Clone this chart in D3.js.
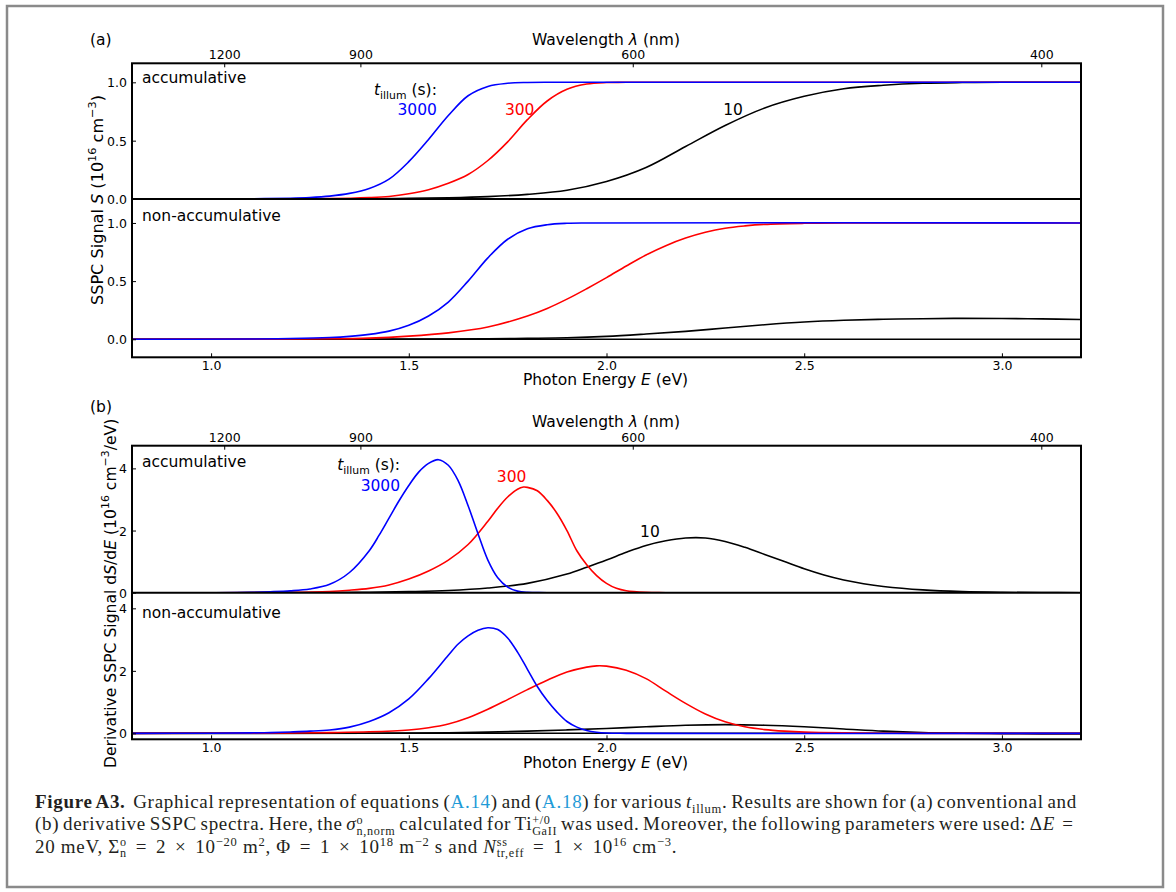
<!DOCTYPE html>
<html lang="en">
<head>
<meta charset="UTF-8">
<title>Figure A3</title>
<script src="https://d3js.org/d3.v7.min.js"></script>
<style>
  body { margin: 0; background: #fff; }
  #fig { position: relative; width: 1176px; height: 892px; }
  svg { position: absolute; left: 0; top: 0; }
  svg text { font-family: "DejaVu Sans", sans-serif; fill: #000; }
  .caption { position: absolute; left: 35px; top: 791px; width: 1042px;
    font-family: "Liberation Serif", serif; font-size: 19px; letter-spacing: 0.7px; color: #231f20; }
  .caption .ln { height: 22.3px; line-height: 22.3px; white-space: nowrap; }
  .caption sup, .caption sub { font-size: 0.66em; line-height: 0; }
  .caption .ref { color: #1f9bd7; }
  .caption .op { margin: 0 0.18em; }
  .caption .ss { display: inline-block; vertical-align: -0.36em; line-height: 0.88; font-size: 0.64em; }
  .caption .ss span { display: block; }
</style>
</head>
<body>
<div id="fig"><svg width="1176" height="892"></svg></div>
<script>
const hc = 1239.84; // eV nm
const energyTicks = [1.0, 1.5, 2.0, 2.5, 3.0];
const wavelengthTicks = [1200, 900, 600, 400];
const signalTicks = [0, 0.5, 1.0];
const derivTicks = [0, 2, 4];
const illumTimes = ["10", "300", "3000"];
const seriesColors = ["#000000", "#ff0000", "#0000ff"];

// (a) accumulative S(E), points [E, S]
const accS10 = [[0.8,0],[1.4,0.002],[1.5,0.005],[1.6,0.01],[1.7,0.02],[1.8,0.04],[1.9,0.075],[2.0,0.15],[2.1,0.27],[2.2,0.45],[2.3,0.63],[2.4,0.78],[2.5,0.88],[2.6,0.945],[2.7,0.975],[2.8,0.992],[2.9,0.998],[3.0,1.0],[3.2,1.0]];
const accS300 = [[0.8,0],[1.3,0.003],[1.4,0.012],[1.45,0.022],[1.5,0.045],[1.55,0.08],[1.6,0.135],[1.65,0.21],[1.7,0.33],[1.75,0.49],[1.8,0.68],[1.85,0.84],[1.9,0.94],[1.95,0.985],[2.0,0.998],[2.05,1.0],[3.2,1.0]];
const accS3000 = [[0.8,0],[1.0,0],[1.1,0.002],[1.2,0.007],[1.25,0.013],[1.3,0.025],[1.35,0.048],[1.4,0.09],[1.45,0.17],[1.5,0.32],[1.55,0.51],[1.6,0.715],[1.65,0.885],[1.7,0.965],[1.75,0.992],[1.8,0.999],[1.9,1.0],[3.2,1.0]];

// (a) non-accumulative S(E)
const nonS10 = [[0.8,0],[1.5,0.001],[1.7,0.004],[1.8,0.008],[1.9,0.013],[2.0,0.025],[2.1,0.045],[2.2,0.068],[2.3,0.097],[2.4,0.125],[2.5,0.148],[2.6,0.163],[2.7,0.172],[2.8,0.177],[2.9,0.18],[3.0,0.179],[3.1,0.175],[3.2,0.17]];
const nonS300 = [[0.8,0],[1.3,0.004],[1.4,0.01],[1.5,0.027],[1.6,0.055],[1.7,0.105],[1.8,0.2],[1.85,0.265],[1.9,0.345],[1.95,0.435],[2.0,0.53],[2.05,0.63],[2.1,0.725],[2.15,0.805],[2.2,0.87],[2.25,0.92],[2.3,0.955],[2.35,0.975],[2.4,0.988],[2.5,0.997],[2.6,1.0],[3.2,1.0]];
const nonS3000 = [[0.8,0],[1.1,0.002],[1.2,0.006],[1.3,0.015],[1.35,0.025],[1.4,0.042],[1.45,0.07],[1.5,0.12],[1.55,0.2],[1.6,0.32],[1.65,0.5],[1.7,0.7],[1.75,0.86],[1.8,0.95],[1.85,0.985],[1.9,0.997],[1.95,1.0],[3.2,1.0]];

// (b) accumulative dS/dE
const accD10 = [[0.8,0],[1.3,0.005],[1.4,0.015],[1.5,0.035],[1.6,0.07],[1.7,0.15],[1.8,0.3],[1.9,0.6],[1.95,0.82],[2.0,1.05],[2.05,1.3],[2.1,1.52],[2.15,1.67],[2.2,1.76],[2.25,1.76],[2.3,1.65],[2.35,1.46],[2.4,1.23],[2.45,1.0],[2.5,0.77],[2.55,0.57],[2.6,0.41],[2.65,0.29],[2.7,0.2],[2.8,0.09],[2.9,0.035],[3.0,0.012],[3.1,0.004],[3.2,0]];
const accD300 = [[0.8,0],[1.2,0.01],[1.3,0.04],[1.35,0.08],[1.4,0.14],[1.45,0.25],[1.5,0.44],[1.55,0.7],[1.6,1.05],[1.65,1.55],[1.7,2.3],[1.725,2.72],[1.75,3.08],[1.775,3.33],[1.79,3.4],[1.8,3.39],[1.825,3.28],[1.85,2.97],[1.875,2.55],[1.9,2.0],[1.925,1.35],[1.95,0.9],[1.975,0.55],[2.0,0.3],[2.025,0.14],[2.05,0.06],[2.1,0.01],[2.15,0],[3.2,0]];
const accD3000 = [[0.8,0],[1.0,0],[1.1,0.01],[1.15,0.03],[1.2,0.06],[1.25,0.12],[1.3,0.27],[1.35,0.65],[1.4,1.35],[1.425,1.85],[1.45,2.4],[1.475,2.95],[1.5,3.45],[1.525,3.88],[1.55,4.16],[1.575,4.28],[1.6,4.1],[1.625,3.6],[1.65,2.8],[1.675,1.9],[1.7,1.05],[1.725,0.48],[1.75,0.18],[1.775,0.05],[1.8,0.01],[1.85,0],[3.2,0]];

// (b) non-accumulative dS/dE
const nonD10 = [[0.8,0],[1.4,0.005],[1.6,0.02],[1.7,0.04],[1.8,0.07],[1.9,0.11],[2.0,0.155],[2.1,0.21],[2.2,0.26],[2.3,0.28],[2.4,0.26],[2.5,0.21],[2.6,0.14],[2.7,0.07],[2.8,0.025],[2.9,0.005],[3.0,-0.008],[3.1,-0.015],[3.2,-0.02]];
const nonD300 = [[0.8,0],[1.2,0.01],[1.3,0.025],[1.4,0.05],[1.5,0.11],[1.55,0.18],[1.6,0.3],[1.65,0.5],[1.7,0.77],[1.75,1.08],[1.8,1.4],[1.85,1.7],[1.9,1.96],[1.95,2.12],[1.975,2.16],[2.0,2.15],[2.05,2.02],[2.1,1.75],[2.15,1.35],[2.2,0.96],[2.25,0.62],[2.3,0.37],[2.35,0.21],[2.4,0.12],[2.45,0.07],[2.5,0.04],[2.6,0.015],[2.7,0.005],[2.8,0],[3.2,0]];
const nonD3000 = [[0.8,0],[1.0,0.005],[1.1,0.015],[1.15,0.025],[1.2,0.045],[1.25,0.07],[1.3,0.11],[1.35,0.2],[1.4,0.38],[1.45,0.66],[1.5,1.1],[1.55,1.75],[1.6,2.5],[1.625,2.86],[1.65,3.12],[1.675,3.3],[1.7,3.38],[1.725,3.32],[1.75,3.05],[1.775,2.6],[1.8,2.05],[1.825,1.5],[1.85,1.05],[1.875,0.68],[1.9,0.38],[1.925,0.2],[1.95,0.09],[1.975,0.035],[2.0,0.01],[2.05,0],[3.2,0]];

const svg = d3.select("svg");
const left = 132, right = 1081;
const x = d3.scaleLinear().domain([0.8, 3.2]).range([left, right]);

// outer frame
svg.append("rect").attr("x", 7).attr("y", 6).attr("width", 1156).attr("height", 881)
  .attr("fill", "none").attr("stroke", "#8a8a8a").attr("stroke-width", 2.5);

// rich text helper (sup/sub/italic pieces)
function rich(sel, parts, size) {
  let shift = 0;
  parts.forEach(p => {
    const want = p.sup ? -size * 0.42 : p.sub ? size * 0.28 : 0;
    sel.append("tspan").attr("dy", want - shift)
      .style("font-size", (p.sup || p.sub) ? size * 0.7 + "px" : size + "px")
      .style("font-style", p.it ? "italic" : null)
      .text(p.t);
    shift = want;
  });
}

const panels = [
  { tag: "(a)", top: 63.3, mid: 199, bottom: 357.3, fmt: d3.format(".1f"), ticks: signalTicks,
    tagY: 45, wlY: 45, tickLabY: 370, xTitleY: 385,
    ylab: [{t:"SSPC Signal "},{t:"S",it:true},{t:" (10"},{t:"16",sup:true},{t:" cm"},{t:"\u22123",sup:true},{t:")"}],
    ylabX: 103, ylabY: 200, ylabAnchor: "middle", ylabSize: 16.1,
    subs: [
      { name: "accumulative", domain: [0, 1.163], series: [accS10, accS300, accS3000], textY: 83.3,
        notes: [ {t:"10", e:2.295, v:0.72, c:0, a:"start"}, {t:"300", e:1.743, v:0.72, c:1, a:"start"},
                 {t:"3000", e:1.571, v:0.72, c:2, a:"end"}, {title:true, e:1.571, v:0.891} ] },
      { name: "non-accumulative", domain: [-0.155, 1.206], series: [nonS10, nonS300, nonS3000], textY: 220.7, notes: [] }
    ] },
  { tag: "(b)", top: 445.7, mid: 592.7, bottom: 739.3, fmt: d3.format("d"), ticks: derivTicks,
    tagY: 412.3, wlY: 426.7, tickLabY: 751.7, xTitleY: 768,
    ylab: [{t:"Derivative SSPC Signal d"},{t:"S",it:true},{t:"/d"},{t:"E",it:true},{t:" (10"},{t:"16",sup:true},{t:" cm"},{t:"\u22123",sup:true},{t:"/eV)"}],
    ylabX: 115.5, ylabY: 768, ylabAnchor: "start", ylabSize: 15.6,
    subs: [
      { name: "accumulative", domain: [0, 4.73], series: [accD10, accD300, accD3000], textY: 466.7,
        notes: [ {t:"10", e:2.085, v:1.8, c:0, a:"start"}, {t:"300", e:1.7225, v:3.57, c:1, a:"start"},
                 {t:"3000", e:1.478, v:3.27, c:2, a:"end"}, {title:true, e:1.478, v:3.945} ] },
      { name: "non-accumulative", domain: [-0.19, 4.5], series: [nonD10, nonD300, nonD3000], textY: 618.3, notes: [] }
    ] }
];

panels.forEach((p, pi) => {
  const g = svg.append("g");

  p.subs.forEach((s, si) => {
    const y0 = si === 0 ? p.top : p.mid;
    const y1 = si === 0 ? p.mid : p.bottom;
    const y = d3.scaleLinear().domain(s.domain).range([y1, y0]);

    const clipId = "clip" + pi + si;
    svg.append("clipPath").attr("id", clipId).append("rect")
      .attr("x", left).attr("y", y0).attr("width", right - left).attr("height", y1 - y0);

    const plot = g.append("g").attr("clip-path", "url(#" + clipId + ")");
    // zero line
    plot.append("line").attr("x1", left).attr("x2", right).attr("y1", y(0)).attr("y2", y(0))
      .attr("stroke", "#000").attr("stroke-width", 1.5);

    const line = d3.line().x(d => x(d[0])).y(d => y(d[1])).curve(d3.curveCatmullRom.alpha(0.5));
    s.series.forEach((data, k) => {
      plot.append("path").datum(data).attr("d", line)
        .attr("fill", "none").attr("stroke", seriesColors[k]).attr("stroke-width", 1.6);
    });

    // y axis, ticks inward
    const ya = g.append("g").attr("transform", `translate(${left},0)`)
      .call(d3.axisLeft(y).tickValues(p.ticks).tickFormat(p.fmt).tickSize(-4).tickPadding(5));
    ya.select(".domain").remove();
    ya.selectAll("text").style("font-size", "12.5px").attr("dy", "0.36em");
    ya.selectAll("line").attr("stroke-width", 1);

    g.append("text").attr("x", 142).attr("y", s.textY).style("font-size", "15.5px").text(s.name);

    s.notes.forEach(n => {
      const t = g.append("text").attr("x", x(n.e)).attr("y", y(n.v)).attr("text-anchor", n.title ? "end" : n.a);
      if (n.title) rich(t, [{t:"t",it:true},{t:"illum",sub:true},{t:" (s):"}], 15.5);
      else t.style("font-size", "15.5px").style("fill", seriesColors[n.c]).text(n.t);
    });
  });

  // bottom energy axis
  const xb = g.append("g").attr("transform", `translate(0,${p.bottom})`)
    .call(d3.axisBottom(x).tickValues(energyTicks).tickFormat(d3.format(".1f")).tickSize(-4).tickPadding(4));
  xb.select(".domain").remove();
  xb.selectAll("text").style("font-size", "12.5px").attr("y", null).attr("dy", null)
    .attr("transform", `translate(0,${p.tickLabY - p.bottom})`);
  xb.selectAll("line").attr("stroke-width", 1);

  // top wavelength axis
  const xt = g.append("g").attr("transform", `translate(0,${p.top})`)
    .call(d3.axisTop(x).tickValues(wavelengthTicks.map(l => hc / l))
      .tickFormat(e => Math.round(hc / e)).tickSize(-4).tickPadding(4));
  xt.select(".domain").remove();
  xt.selectAll("text").style("font-size", "12.5px").attr("y", null).attr("dy", null)
    .attr("transform", "translate(0,-4)");
  xt.selectAll("line").attr("stroke-width", 1);

  // frame + divider
  g.append("rect").attr("x", left).attr("y", p.top).attr("width", right - left).attr("height", p.bottom - p.top)
    .attr("fill", "none").attr("stroke", "#000").attr("stroke-width", 2);
  g.append("line").attr("x1", left).attr("x2", right).attr("y1", p.mid).attr("y2", p.mid)
    .attr("stroke", "#000").attr("stroke-width", 2);

  // titles
  g.append("text").attr("x", 90).attr("y", p.tagY).style("font-size", "15.5px").text(p.tag);
  rich(g.append("text").attr("x", 606).attr("y", p.wlY).attr("text-anchor", "middle"),
    [{t:"Wavelength "},{t:"\u03bb",it:true},{t:" (nm)"}], 15.5);
  rich(g.append("text").attr("x", 605.5).attr("y", p.xTitleY).attr("text-anchor", "middle"),
    [{t:"Photon Energy "},{t:"E",it:true},{t:" (eV)"}], 15.5);
  rich(g.append("text").attr("text-anchor", p.ylabAnchor)
      .attr("transform", `translate(${p.ylabX},${p.ylabY}) rotate(-90)`), p.ylab, p.ylabSize);
});

// caption
const eq = '<span class="op">=</span>', times = '<span class="op">\u00d7</span>';
const cap = d3.select("#fig").append("div").attr("class", "caption");
const captionLines = [
  { just: true, html: '<b>Figure A3.</b>\u00a0 Graphical representation of equations (<span class="ref">A.14</span>) and (<span class="ref">A.18</span>) for various <i>t</i><sub>illum</sub>. Results are shown for (a) conventional and' },
  { just: true, html: '(b) derivative SSPC spectra. Here, the <i>\u03c3</i><span class="ss"><span>o</span><span>n,norm</span></span> calculated for Ti<span class="ss"><span>+/0</span><span>GaII</span></span> was used. Moreover, the following parameters were used: \u0394<i>E</i> ' + eq },
  { just: false, html: '20 meV, \u03a3<span class="ss"><span>o</span><span>n</span></span> ' + eq + ' 2 ' + times + ' 10<sup>\u221220</sup> m<sup>2</sup>, \u03a6 ' + eq + ' 1 ' + times + ' 10<sup>18</sup> m<sup>\u22122</sup> s and <i>N</i><span class="ss"><span>ss</span><span>tr,eff</span></span> ' + eq + ' 1 ' + times + ' 10<sup>16</sup> cm<sup>\u22123</sup>.' }
];
const capW = 1042;
cap.selectAll("div").data(captionLines).enter().append("div")
  .attr("class", "ln")
  .html(d => '<span class="inner">' + d.html + '</span>')
  .each(function(d) {
    if (!d.just) return;
    const inner = this.querySelector(".inner");
    const w = inner.getBoundingClientRect().width;
    const n = (inner.textContent.match(/[ \u00a0]/g) || []).length;
    this.style.wordSpacing = ((capW - w) / n) + "px";
  });
</script>
</body>
</html>
